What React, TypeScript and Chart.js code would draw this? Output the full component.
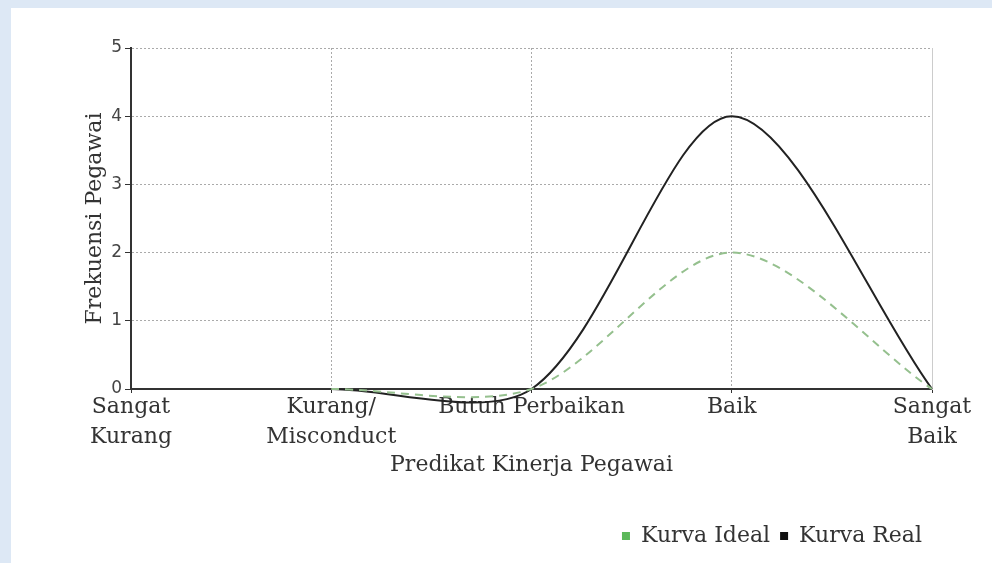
import React, { useEffect, useRef } from "react";
import { Chart, registerables } from "chart.js";

Chart.register(...registerables);

const categories: (string | string[])[] = [
  ["Sangat", "Kurang"],
  ["Kurang/", "Misconduct"],
  "Butuh Perbaikan",
  "Baik",
  ["Sangat", "Baik"],
];
const idealValues: (number | null)[] = [null, 0, 0, 2, 0];
const realValues: (number | null)[] = [null, 0, 0, 4, 0];
const yMin = 0;
const yMax = 5;
const yStep = 1;
const xTitle = "Predikat Kinerja Pegawai";
const yTitle = "Frekuensi Pegawai";
const seriesNames = ["Kurva Ideal", "Kurva Real"];

const SERIF = "'DejaVu Serif', serif";
const SANS = "'DejaVu Sans', sans-serif";

export default function App() {
  const ref = useRef<HTMLCanvasElement | null>(null);

  useEffect(() => {
    document.body.style.margin = "0";
    const ctx = ref.current!.getContext("2d")!;
    const defaultLabels = (Chart as any).defaults.plugins.legend.labels.generateLabels;
    const chart = new Chart(ctx, {
      type: "line",
      data: {
        labels: categories,
        datasets: [
          {
            label: seriesNames[0],
            data: idealValues,
            borderColor: "#95c08e",
            backgroundColor: "#5cb85a",
            borderWidth: 2,
            borderDash: [8, 6],
            pointRadius: 0,
            tension: 0.3,
            fill: false,
            clip: false as any,
          },
          {
            label: seriesNames[1],
            data: realValues,
            borderColor: "#222222",
            backgroundColor: "#111111",
            borderWidth: 2,
            pointRadius: 0,
            tension: 0.3,
            fill: false,
            clip: false as any,
          },
        ],
      },
      options: {
        responsive: false,
        animation: false,
        elements: { line: { capBezierPoints: false } },
        layout: { padding: { top: 40, right: 60, left: 70, bottom: 6 } },
        plugins: {
          tooltip: { enabled: false },
          legend: {
            position: "bottom",
            align: "end",
            labels: {
              boxWidth: 8,
              boxHeight: 8,
              padding: 10,
              color: "#333",
              font: { family: SERIF, size: 22 },
              generateLabels: (c: any) =>
                defaultLabels(c).map((it: any) => ({
                  ...it,
                  lineDash: [],
                  lineWidth: 0,
                  strokeStyle: it.fillStyle,
                })),
            },
          },
        },
        scales: {
          x: {
            offset: false,
            afterFit: (s: any) => {
              s.height = 126;
            },
            grid: {
              color: "#aaaaaa",
              tickColor: "#333",
              tickLength: 4,
              offset: false,
            },
            border: { display: true, color: "#333", width: 2, dash: [2, 2] },
            ticks: {
              color: "#333",
              padding: -1,
              maxRotation: 0,
              autoSkip: false,
              font: { family: SERIF, size: 22, lineHeight: 1.36 },
            },
            title: {
              display: true,
              text: xTitle,
              color: "#333",
              font: { family: SERIF, size: 22 },
              padding: { top: 4, bottom: 37 },
            },
          },
          y: {
            min: yMin,
            max: yMax,
            afterFit: (s: any) => {
              s.width = 50;
            },
            grid: {
              color: "#aaaaaa",
              tickColor: "#333",
              tickLength: 6,
            },
            border: { display: true, color: "#333", width: 2, dash: [2, 2] },
            ticks: {
              stepSize: yStep,
              color: "#444",
              padding: 3,
              font: { family: SANS, size: 17 },
            },
            title: {
              display: true,
              text: yTitle,
              color: "#333",
              font: { family: SERIF, size: 22 },
              padding: { top: 1, bottom: 4 },
            },
          },
          y2: {
            position: "right",
            min: yMin,
            max: yMax,
            afterFit: (s: any) => {
              s.width = 0;
            },
            grid: { display: false },
            ticks: { display: false },
            border: { display: true, color: "#cccccc", width: 1 },
          },
        },
      },
    });
    return () => chart.destroy();
  }, []);

  return (
    <div style={{ position: "fixed", inset: 0, background: "#dde8f5" }}>
      <div
        style={{
          position: "absolute",
          left: 11,
          top: 8,
          width: 981,
          height: 555,
          background: "#ffffff",
        }}
      >
        <canvas ref={ref} width={981} height={555} style={{ display: "block" }} />
      </div>
    </div>
  );
}
